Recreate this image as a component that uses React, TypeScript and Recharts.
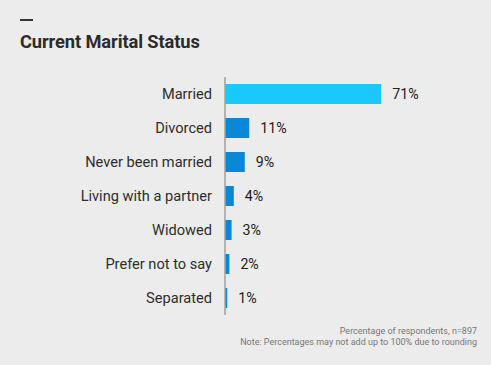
import { Bar, BarChart, Cell, LabelList, XAxis, YAxis } from "recharts";

const categories = ["Married", "Divorced", "Never been married", "Living with a partner", "Widowed", "Prefer not to say", "Separated"];
const shares = [71, 11, 9, 4, 3, 2, 1];
const highlight = "Married";

const data = categories.map((status, i) => ({ status, share: shares[i] }));

const font = "Roboto, 'Noto Sans', sans-serif";

export default function App() {
  return (
    <div style={{ position: "absolute", top: 0, left: 0, width: 491, height: 365, background: "#ececec", fontFamily: font, overflow: "hidden" }}>
      <div style={{ position: "absolute", left: 20, top: 19, width: 13, height: 2, background: "#333" }} />
      <div style={{ position: "absolute", left: 20, top: 31, fontSize: 18.3, fontWeight: 700, color: "#2b2b2b", letterSpacing: -0.1 }}>
        Current Marital Status
      </div>
      <div style={{ position: "absolute", top: 77, left: 0 }}>
        <BarChart width={491} height={238} data={data} layout="vertical" margin={{ top: 0, right: 46, bottom: 0, left: 0 }} barSize={20}>
          <XAxis type="number" domain={[0, 100]} hide />
          <YAxis
            type="category"
            dataKey="status"
            width={225}
            tickLine={false}
            tickSize={6}
            tickMargin={7}
            axisLine={{ stroke: "#a0a0a0", strokeWidth: 1.5 }}
            tick={{ fill: "#2e2e2e", fontSize: 14.6, fontFamily: font }}
          />
          <Bar dataKey="share" isAnimationActive={false}>
            {data.map((d) => (
              <Cell key={d.status} fill={d.status === highlight ? "#1ac8fc" : "#0a87d8"} />
            ))}
            <LabelList dataKey="share" position="right" offset={11} formatter={(v) => `${v}%`} style={{ fill: "#222", fontSize: 14.2, fontFamily: font }} />
          </Bar>
        </BarChart>
      </div>
      <div style={{ position: "absolute", right: 14, top: 326, textAlign: "right", fontSize: 9, lineHeight: "11px", color: "#777" }}>
        Percentage of respondents, n=897
        <br />
        Note: Percentages may not add up to 100% due to rounding
      </div>
    </div>
  );
}
